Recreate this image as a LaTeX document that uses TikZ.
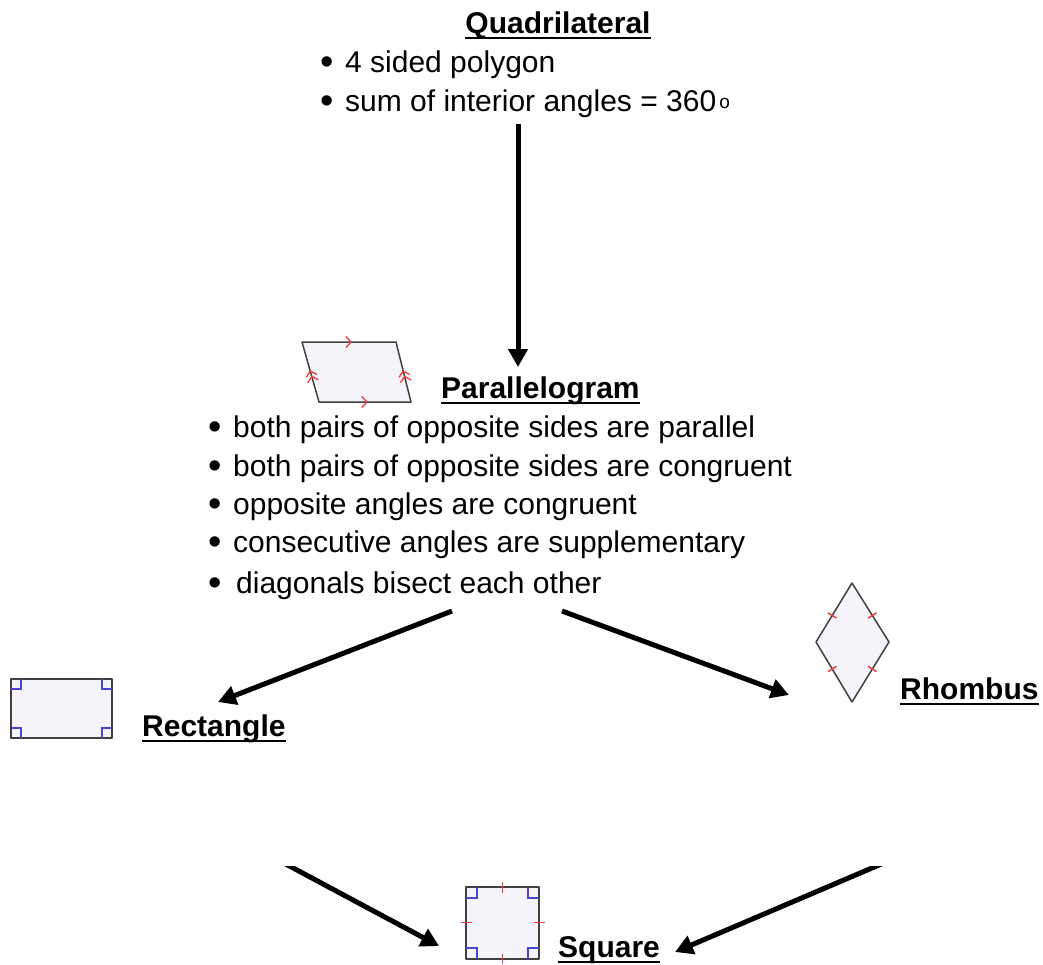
\documentclass[tikz,border=0pt]{standalone}
\usepackage{fontspec}
\setmainfont{Liberation Sans}
\usetikzlibrary{arrows.meta,decorations.markings}
\definecolor{shapefill}{HTML}{F4F4FA}
\definecolor{edgegray}{HTML}{404040}
\definecolor{markred}{HTML}{F03A3A}
\definecolor{markblue}{HTML}{4646D2}
\begin{document}
\begin{tikzpicture}[x=1pt,y=-1pt,
  txt/.style={inner sep=0pt, anchor=base west, font=\fontsize{30}{36}\selectfont},
  ttl/.style={inner sep=0pt, font=\fontsize{30}{36}\selectfont\bfseries},
  bul/.style={inner sep=0pt, anchor=base, yshift=-2pt, font=\fontsize{38}{40}\selectfont},
  uline/.style={line width=2.5pt},
  bigarrow/.style={line width=5pt, -{Triangle[length=18pt,width=19pt]}},
  shp/.style={draw=edgegray, fill=shapefill, line width=1.5pt, line join=round},
  rmark/.style={draw=markred, line width=1.5pt},
  bmark/.style={draw=markblue, line width=1.4pt},
  chev/.style={markred, line width=1.3pt},
  sglchev/.style={postaction={decorate}, decoration={markings,
      mark=at position 0.53 with {\arrow[chev]{Straight Barb[length=5pt,width=11pt]}}}},
  dblchev/.style={postaction={decorate}, decoration={markings,
      mark=at position 0.44 with {\arrow[chev]{Straight Barb[length=5pt,width=11pt]}},
      mark=at position 0.53 with {\arrow[chev]{Straight Barb[length=5pt,width=11pt]}}}},
  tick/.style={postaction={decorate}, decoration={markings,
      mark=at position #1 with {\draw[rmark] (0,-5pt) -- (0,5pt);}}},
  ]
\useasboundingbox (0,0) rectangle (1043,964);

% ---------- Quadrilateral ----------
\node[ttl, anchor=base] (quad) at (558,33) {Quadrilateral};
\draw[uline] ([yshift=-5pt]quad.base west) -- ([yshift=-5pt]quad.base east);
\node[bul] (qb1) at (327,72) {\textbullet};
\node[txt] (q1) at (345,72) {4 sided polygon};
\node[bul] (qb2) at (327,111) {\textbullet};
\node[txt] (q2) at (345,111) {sum of interior angles = 360\hspace{3pt}\raisebox{3pt}{\fontsize{19}{19}\selectfont o}};

% ---------- Parallelogram ----------
\coordinate (p1) at (302,342);
\coordinate (p2) at (396,342);
\coordinate (p3) at (411,402);
\coordinate (p4) at (319,402);
\draw[shp] (p1) -- (p2) -- (p3) -- (p4) -- cycle;
\path[sglchev] (p1) -- (p2);
\path[sglchev] (p4) -- (p3);
\path[dblchev] (p4) -- (p1);
\path[dblchev] (p3) -- (p2);

\node[ttl, anchor=base west] (para) at (441,398) {Parallelogram};
\draw[uline] ([yshift=-5pt]para.base west) -- ([yshift=-5pt]para.base east);
\node[bul] (pb1) at (215,437) {\textbullet};
\node[txt] (pl1) at (233,437) {both pairs of opposite sides are parallel};
\node[bul] (pb2) at (215,476) {\textbullet};
\node[txt] (pl2) at (233,476) {both pairs of opposite sides are congruent};
\node[bul] (pb3) at (215,514) {\textbullet};
\node[txt] (pl3) at (233,514) {opposite angles are congruent};
\node[bul] (pb4) at (215,552) {\textbullet};
\node[txt] (pl4) at (233,552) {consecutive angles are supplementary};
\node[bul] (pb5) at (215,593) {\textbullet};
\node[txt] (pl5) at (236,593) {diagonals bisect each other};

% ---------- Rhombus ----------
\coordinate (r1) at (852,583);
\coordinate (r2) at (889,642);
\coordinate (r3) at (852,702);
\coordinate (r4) at (816,642);
\draw[shp] (r1) -- (r2) -- (r3) -- (r4) -- cycle;
\path[tick=0.55] (r1) -- (r2);
\path[tick=0.55] (r1) -- (r4);
\path[tick=0.45] (r2) -- (r3);
\path[tick=0.45] (r4) -- (r3);
\node[ttl, anchor=base west] (rhom) at (900,699) {Rhombus};
\draw[uline] ([yshift=-5pt]rhom.base west) -- ([yshift=-5pt]rhom.base east);

% ---------- Rectangle ----------
\draw[shp] (11,679) rectangle (112,738);
\draw[bmark] (11,689) -- (21,689) -- (21,679);
\draw[bmark] (112,689) -- (102,689) -- (102,679);
\draw[bmark] (11,728) -- (21,728) -- (21,738);
\draw[bmark] (112,728) -- (102,728) -- (102,738);
\node[ttl, anchor=base west] (rect) at (142,736) {Rectangle};
\draw[uline] ([yshift=-5pt]rect.base west) -- ([yshift=-5pt]rect.base east);

% ---------- Square ----------
\draw[shp] (466,887) rectangle (539,959);
\draw[bmark] (466,898) -- (477,898) -- (477,887);
\draw[bmark] (539,898) -- (528,898) -- (528,887);
\draw[bmark] (466,948) -- (477,948) -- (477,959);
\draw[bmark] (539,948) -- (528,948) -- (528,959);
\draw[rmark] (502.5,882) -- (502.5,893);
\draw[rmark] (502.5,954) -- (502.5,964);
\draw[rmark] (460.5,922.5) -- (471.5,922.5);
\draw[rmark] (533.5,922.5) -- (544.5,922.5);
\node[ttl, anchor=base west] (squa) at (558,957) {Square};
\draw[uline] ([yshift=-5pt]squa.base west) -- ([yshift=-5pt]squa.base east);

% ---------- Connectors ----------
\coordinate (a1s) at (518,124);
\coordinate (a1e) at (518,367);
\coordinate (a2s) at (452,611);
\coordinate (a2e) at (218,702);
\coordinate (a3s) at (562,611);
\coordinate (a3e) at (789,695);
\coordinate (a4s) at (282,862);
\coordinate (a4e) at (439,946);
\coordinate (a5s) at (886,862);
\coordinate (a5e) at (675,952);
\draw[bigarrow] (a1s) -- (a1e);
\draw[bigarrow] (a2s) -- (a2e);
\draw[bigarrow] (a3s) -- (a3e);
\begin{scope}
  \clip (0,866) rectangle (1043,964);
  \draw[bigarrow] (a4s) -- (a4e);
  \draw[bigarrow] (a5s) -- (a5e);
\end{scope}
\end{tikzpicture}
\end{document}
